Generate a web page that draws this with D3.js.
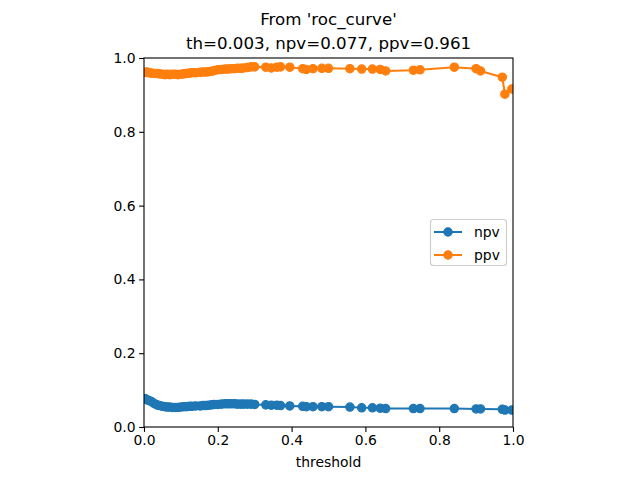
<!DOCTYPE html>
<html><head><meta charset="utf-8">
<script src="https://cdn.jsdelivr.net/npm/d3@7"></script>
<style>body{margin:0;background:#fff}svg{display:block}text{font-family:"DejaVu Sans",sans-serif;fill:#000}</style>
</head><body><svg id="c" width="640" height="480"></svg>
<script>
const thresholds = [0.003,0.008,0.013,0.02,0.027,0.035,0.042,0.05,0.057,0.063,0.07,0.077,0.085,0.092,0.1,0.108,0.115,0.123,0.13,0.14,0.152,0.16,0.168,0.175,0.183,0.19,0.2,0.21,0.22,0.228,0.236,0.245,0.253,0.262,0.27,0.28,0.29,0.3,0.33,0.345,0.36,0.37,0.395,0.43,0.44,0.458,0.482,0.5,0.558,0.59,0.619,0.64,0.655,0.73,0.748,0.841,0.9,0.912,0.971,0.978,0.997];
const npv = [0.077,0.074,0.072,0.069,0.064,0.060,0.058,0.056,0.055,0.054,0.054,0.053,0.053,0.053,0.054,0.055,0.055,0.056,0.056,0.057,0.057,0.058,0.058,0.059,0.060,0.061,0.061,0.062,0.063,0.063,0.063,0.063,0.062,0.062,0.062,0.062,0.062,0.061,0.060,0.059,0.059,0.058,0.057,0.056,0.055,0.055,0.055,0.055,0.054,0.052,0.052,0.051,0.050,0.050,0.050,0.050,0.049,0.049,0.048,0.046,0.046];
const ppv = [0.961,0.962,0.960,0.959,0.958,0.958,0.957,0.956,0.955,0.956,0.955,0.956,0.956,0.955,0.956,0.957,0.958,0.959,0.960,0.960,0.961,0.962,0.962,0.963,0.964,0.966,0.968,0.969,0.970,0.970,0.971,0.971,0.972,0.972,0.973,0.974,0.976,0.976,0.975,0.973,0.975,0.976,0.975,0.971,0.969,0.971,0.972,0.972,0.971,0.970,0.970,0.969,0.965,0.967,0.968,0.975,0.971,0.965,0.948,0.902,0.916];
const seriesNames = ["npv","ppv"];
const colors = ["#1f77b4","#ff7f0e"];
const xTicks = [0,0.2,0.4,0.6,0.8,1.0];
const yTicks = [0,0.2,0.4,0.6,0.8,1.0];
const titleLines = ["From 'roc_curve'","th=0.003, npv=0.077, ppv=0.961"];
const xLabel = "threshold";

const svg = d3.select("#c");
const L=144,R=513,T=58,B=427;
const x = d3.scaleLinear().domain([0,1]).range([L,R]);
const y = d3.scaleLinear().domain([0,1]).range([B,T]);

svg.append("defs").append("clipPath").attr("id","clip").append("rect")
  .attr("x",L).attr("y",T).attr("width",R-L).attr("height",B-T);

const data = [npv,ppv];
const g = svg.append("g").attr("clip-path","url(#clip)");
data.forEach((vals,i)=>{
  const pts = thresholds.map((t,j)=>[t,vals[j]]);
  g.append("path").datum(pts).attr("fill","none").attr("stroke",colors[i]).attr("stroke-width",2.08)
    .attr("stroke-linejoin","round").attr("stroke-linecap","square")
    .attr("d",d3.line().x(d=>x(d[0])).y(d=>y(d[1])));
  g.selectAll(null).data(pts).enter().append("circle")
    .attr("cx",d=>x(d[0])).attr("cy",d=>y(d[1])).attr("r",4.17).attr("fill",colors[i])
    .attr("stroke",colors[i]).attr("stroke-width",1.2);
});

const fmt = d3.format(".1f");
const xa = svg.append("g").attr("transform",`translate(0,${B})`)
  .call(d3.axisBottom(x).tickValues(xTicks).tickFormat(fmt).tickSize(4.9).tickPadding(3.5));
const ya = svg.append("g").attr("transform",`translate(${L},0)`)
  .call(d3.axisLeft(y).tickValues(yTicks).tickFormat(fmt).tickSize(4.9).tickPadding(3.5));
[xa,ya].forEach(a=>{
  a.select(".domain").remove();
  a.selectAll("line").attr("stroke","#000").attr("stroke-width",1.1);
  a.selectAll("text").attr("font-family","DejaVu Sans").attr("font-size",13.9).attr("fill","#000");
});
svg.append("rect").attr("x",L).attr("y",T).attr("width",R-L).attr("height",B-T)
  .attr("fill","none").attr("stroke","#000").attr("stroke-width",1.1);

svg.append("text").attr("x",(L+R)/2).attr("y",467).attr("text-anchor","middle").attr("font-size",13.9).text(xLabel);
titleLines.forEach((s,i)=>{
  svg.append("text").attr("x",(L+R)/2).attr("y",25+i*23.5).attr("text-anchor","middle").attr("font-size",16.67).text(s);
});

const lg = svg.append("g");
lg.append("rect").attr("x",430.5).attr("y",219.5).attr("width",76).attr("height",46).attr("rx",3)
  .attr("fill","#fff").attr("fill-opacity",0.8).attr("stroke","#ccc").attr("stroke-width",1.1);
seriesNames.forEach((n,i)=>{
  const yy = 232 + i*23;
  lg.append("line").attr("x1",434).attr("x2",462).attr("y1",yy).attr("y2",yy).attr("stroke",colors[i]).attr("stroke-width",2.08);
  lg.append("circle").attr("cx",448).attr("cy",yy).attr("r",4.17).attr("fill",colors[i]).attr("stroke",colors[i]).attr("stroke-width",1.2);
  lg.append("text").attr("x",474).attr("y",yy+5).attr("font-size",13.9).text(n);
});
</script></body></html>
